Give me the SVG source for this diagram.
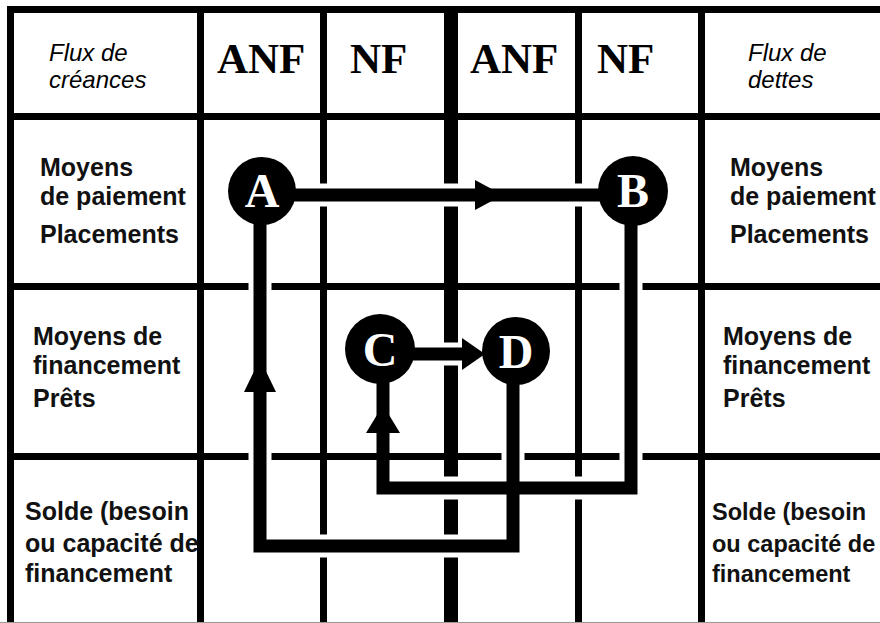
<svg xmlns="http://www.w3.org/2000/svg" width="880" height="623" viewBox="0 0 880 623">
<style>
.grid{fill:#000}
.halo{fill:none;stroke:#fff;stroke-width:23;stroke-linejoin:miter}
.conn{fill:none;stroke:#000;stroke-width:13;stroke-linejoin:miter}
.head{fill:#000}
.node{fill:#000}
.letter{font-family:"Liberation Serif","Times New Roman",serif;font-weight:bold;font-size:48px;fill:#fff;text-anchor:middle}
.col{font-family:"Liberation Serif","Times New Roman",serif;font-weight:bold;font-size:43px;fill:#000}
.flux{font-family:"Liberation Sans",Arial,sans-serif;font-style:italic;font-size:24px;fill:#000}
.lbl{font-family:"Liberation Sans",Arial,sans-serif;font-weight:bold;font-size:25px;fill:#111}
.lbl-sm{font-size:23.5px}
</style>
<rect x="0" y="0" width="880" height="623" fill="#fff"/>
<g id="grid">
<rect class="grid" x="7" y="6" width="873" height="7"/>
<rect class="grid" x="7" y="6" width="7" height="617"/>
<rect class="grid" x="197" y="6" width="7" height="617"/>
<rect class="grid" x="320" y="6" width="7" height="617"/>
<rect class="grid" x="444" y="6" width="14" height="617"/>
<rect class="grid" x="575" y="6" width="7" height="617"/>
<rect class="grid" x="698" y="6" width="7" height="617"/>
<rect class="grid" x="7" y="113" width="873" height="7"/>
<rect class="grid" x="7" y="283" width="873" height="7"/>
<rect class="grid" x="7" y="453" width="873" height="7"/>
<rect x="0" y="622" width="880" height="1" fill="#999"/>
</g>
<g id="headers">
<text class="flux" x="49" y="61">Flux de</text>
<text class="flux" x="49" y="88">créances</text>
<text class="col" x="217" y="73">ANF</text>
<text class="col" x="350" y="73">NF</text>
<text class="col" x="470" y="73">ANF</text>
<text class="col" x="597" y="73">NF</text>
<text class="flux" x="748" y="61">Flux de</text>
<text class="flux" x="748" y="88">dettes</text>
</g>
<g id="row-labels">
<text class="lbl" x="40" y="176">Moyens</text>
<text class="lbl" x="40" y="205">de paiement</text>
<text class="lbl" x="40" y="243">Placements</text>
<text class="lbl" x="33" y="345">Moyens de</text>
<text class="lbl" x="33" y="374">financement</text>
<text class="lbl" x="33" y="407">Prêts</text>
<text class="lbl" x="25" y="520">Solde (besoin</text>
<text class="lbl" x="25" y="552">ou capacité de</text>
<text class="lbl" x="25" y="582">financement</text>
<text class="lbl" x="730" y="176">Moyens</text>
<text class="lbl" x="730" y="205">de paiement</text>
<text class="lbl" x="730" y="243">Placements</text>
<text class="lbl" x="723" y="345">Moyens de</text>
<text class="lbl" x="723" y="374">financement</text>
<text class="lbl" x="723" y="407">Prêts</text>
<text class="lbl lbl-sm" x="712" y="520">Solde (besoin</text>
<text class="lbl lbl-sm" x="712" y="552">ou capacité de</text>
<text class="lbl lbl-sm" x="712" y="582">financement</text>
</g>
<g id="connectors">
<path class="halo" d="M296 195 H598"/>
<path class="halo" d="M513 385 V546 H260 V225"/>
<path class="halo" d="M631 226 V488 H383"/>
<path class="halo" d="M415 354 H470"/>
<path class="conn" d="M290 195 H600"/>
<polygon class="head" points="475,180 503,195 475,210"/>
<path class="conn" d="M513 380 V546 H260 V220"/>
<polygon class="head" points="244,392 260,359 276,392"/>
<path class="conn" d="M631 220 V488 H383 V380"/>
<polygon class="head" points="366,433 383,405 400,433"/>
<path class="conn" d="M410 354 H470"/>
<polygon class="head" points="462,338 485,354 462,370"/>
</g>
<g id="node-A"><circle class="node" cx="262" cy="191" r="34"/><text class="letter" x="262" y="207">A</text></g>
<g id="node-B"><circle class="node" cx="633" cy="191" r="35"/><text class="letter" x="633" y="207">B</text></g>
<g id="node-C"><circle class="node" cx="380" cy="349" r="35"/><text class="letter" x="380" y="366">C</text></g>
<g id="node-D"><circle class="node" cx="516" cy="351" r="34"/><text class="letter" x="516" y="368">D</text></g>
</svg>
